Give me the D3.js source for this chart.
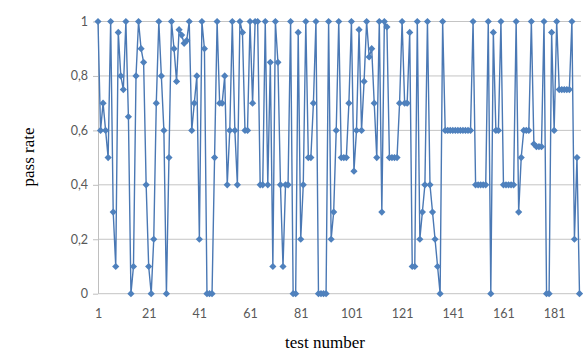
<!DOCTYPE html>
<html>
<head>
<meta charset="utf-8">
<script src="https://cdn.jsdelivr.net/npm/d3@7"></script>
<style>
  body { margin: 0; background: #fff; }
  svg { display: block; }
</style>
</head>
<body>
<div id="chart"></div>
<script>
// pass rate per test
const passRate = [
  1, 0.6, 0.7, 0.6, 0.5, 1, 0.3, 0.1, 0.96, 0.8,
  0.75, 1, 0.65, 0, 0.1, 0.8, 1, 0.9, 0.85, 0.4,
  0.1, 0, 0.2, 0.7, 1, 0.8, 0.6, 0, 0.5, 1,
  0.9, 0.78, 0.97, 0.95, 0.92, 0.93, 1, 0.6, 0.7, 0.8,
  0.2, 1, 0.9, 0, 0, 0, 0.5, 1, 0.7, 0.7,
  0.8, 0.4, 0.6, 1, 0.6, 0.4, 1, 0.96, 0.6, 0.6,
  1, 0.7, 1, 1, 0.4, 0.4, 1, 0.4, 0.85, 0.1,
  1, 0.85, 0.4, 0.1, 0.4, 0.4, 1, 0, 0, 0.96,
  0.2, 0.4, 1, 0.5, 0.5, 0.7, 1, 0, 0, 0,
  0, 1, 0.2, 0.3, 0.6, 1, 0.5, 0.5, 0.5, 0.7,
  1, 0.45, 0.6, 0.97, 0.6, 0.78, 1, 0.87, 0.9, 0.7,
  0.5, 1, 0.3, 1, 0.98, 0.5, 0.5, 0.5, 0.5, 0.7,
  1, 0.7, 0.7, 0.96, 0.1, 0.1, 1, 0.2, 0.3, 0.4,
  1, 0.4, 0.3, 0.2, 0.1, 0, 1, 0.6, 0.6, 0.6,
  0.6, 0.6, 0.6, 0.6, 0.6, 0.6, 0.6, 0.6, 1, 0.4,
  0.4, 0.4, 0.4, 0.4, 1, 0, 0.96, 0.6, 0.6, 1,
  0.4, 0.4, 0.4, 0.4, 0.4, 1, 0.3, 0.5, 0.6, 0.6,
  0.6, 1, 0.55, 0.54, 0.54, 0.54, 1, 0, 0, 0.96,
  0.6, 1, 0.75, 0.75, 0.75, 0.75, 0.75, 1, 0.2, 0.5,
  0
];
const xTicks = [1, 21, 41, 61, 81, 101, 121, 141, 161, 181];
const yTicks = [0, 0.2, 0.4, 0.6, 0.8, 1];

const size = {width: 583, height: 351};
const margin = {top: 21, right: 2, bottom: 58, left: 98};
const width = size.width - margin.left - margin.right;
const height = size.height - margin.top - margin.bottom;

const svg = d3.select("#chart").append("svg")
    .attr("width", size.width)
    .attr("height", size.height);

const g = svg.append("g")
    .attr("transform", "translate(" + margin.left + "," + margin.top + ")");

const xScale = d3.scaleLinear().domain([1, passRate.length]).range([0, width - 1.5]);
const yScale = d3.scaleLinear().domain([0, 1]).range([height + 0.7, 0.5]);

// horizontal gridlines
g.append("g")
    .selectAll("line")
    .data(yTicks)
    .join("line")
    .attr("x1", 0)
    .attr("x2", width)
    .attr("y1", d => yScale(d))
    .attr("y2", d => yScale(d))
    .attr("stroke", "#c4c4c4")
    .attr("stroke-width", 1);

// y axis
const yAxis = d3.axisLeft(yScale)
    .tickValues(yTicks)
    .tickSize(5)
    .tickFormat(d => d3.format(".1~f")(d).replace(".", ","));
const yAxisG = g.append("g").attr("class", "yAxisG").call(yAxis);
yAxisG.select(".domain").attr("stroke", "#bfbfbf").attr("d", "M0.5," + yScale(0) + "V" + yScale(1));
yAxisG.selectAll(".tick line").attr("stroke", "#bfbfbf");
yAxisG.selectAll(".tick text")
    .attr("x", -10)
    .attr("fill", "#595959")
    .style("font-family", "Lato, 'Open Sans', sans-serif")
    .style("font-size", "12.5px");

// x axis labels
const xAxis = d3.axisBottom(xScale).tickValues(xTicks).tickSize(0);
const xAxisG = g.append("g")
    .attr("class", "xAxisG")
    .attr("transform", "translate(0," + yScale(0) + ")")
    .call(xAxis);
xAxisG.select(".domain").remove();
xAxisG.selectAll(".tick text")
    .attr("y", 15)
    .attr("fill", "#595959")
    .style("font-family", "Lato, 'Open Sans', sans-serif")
    .style("font-size", "12.5px");

// line
const line = d3.line()
    .x((d, i) => xScale(i + 1))
    .y(d => yScale(d));

g.append("path")
    .datum(passRate)
    .attr("fill", "none")
    .attr("stroke", "#4a78b4")
    .attr("stroke-width", 1.4)
    .attr("d", line);

// diamond markers
const r = 3.6;
g.append("g")
    .selectAll("path")
    .data(passRate)
    .join("path")
    .attr("transform", (d, i) => "translate(" + xScale(i + 1) + "," + yScale(d) + ")")
    .attr("d", "M0," + (-r) + "L" + r + ",0L0," + r + "L" + (-r) + ",0Z")
    .attr("fill", "#4f81bd");

// axis titles
svg.append("text")
    .attr("x", 325)
    .attr("y", 348)
    .attr("text-anchor", "middle")
    .style("font-family", "'Liberation Serif', 'Times New Roman', serif")
    .style("font-size", "17px")
    .attr("fill", "#000")
    .text("test number");

svg.append("text")
    .attr("transform", "translate(34,157) rotate(-90)")
    .attr("text-anchor", "middle")
    .style("font-family", "'Liberation Serif', 'Times New Roman', serif")
    .style("font-size", "17px")
    .attr("fill", "#000")
    .text("pass rate");
</script>
</body>
</html>
